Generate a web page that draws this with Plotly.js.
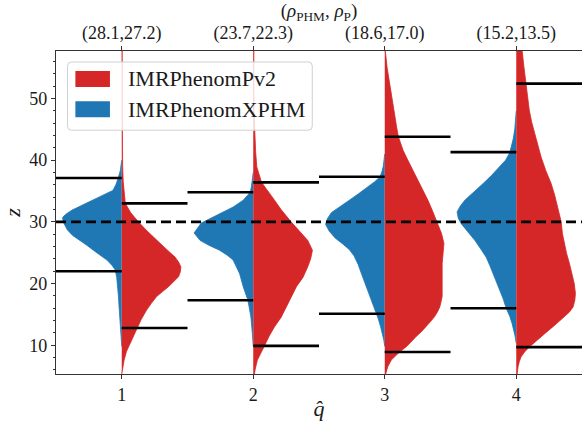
<!DOCTYPE html>
<html><head><meta charset="utf-8">
<script src="https://cdn.plot.ly/plotly-3.0.1.min.js"></script>
<style>html,body{margin:0;padding:0;background:#fff}#chart{width:582px;height:421px}</style>
</head><body><div id="chart"></div>
<script>
// ---------------- data ----------------
const positions = [1, 2, 3, 4];
const xTickLabels = ['1', '2', '3', '4'];
const snrLabels = ['(28.1,27.2)', '(23.7,22.3)', '(18.6,17.0)', '(15.2,13.5)'];
const seriesNames = ['IMRPhenomPv2', 'IMRPhenomXPHM'];
const refZ = 30;

// IMRPhenomXPHM (blue, left halves): z samples and relative density (0..1)
const xphmZ = [
  [40, 39.4, 38.3, 37.1, 36, 35.1, 34.3, 33.5, 32.7, 31.9, 31.2, 30.7, 30, 28.7, 27.8, 27.0, 26.2, 25.4, 24.6, 23.8, 22.9, 22.2, 21, 19.5, 17.8, 16.2, 14.4, 12.5, 10.8, 9.8],
  [38, 37, 35.8, 34.8, 33.5, 32.4, 31.5, 30.8, 29.8, 28.2, 27.0, 26.2, 25.4, 24.6, 23.8, 21.6, 19.5, 17.3, 14.6, 11.9, 9.8],
  [41, 40, 39, 38.2, 37.3, 36.5, 35.5, 34.5, 33.5, 32.5, 31.5, 30.5, 29.6, 28.5, 27.4, 26.5, 25.5, 24.5, 23.1, 21.5, 20, 18.5, 17, 15.5, 14.3, 13, 11.8, 10.8, 9.8],
  [48, 46.5, 45, 43.5, 42.3, 41.2, 40, 38.9, 37.5, 36.2, 34.8, 33.5, 32.5, 31.6, 30.6, 29.7, 28.4, 27, 25.6, 24.3, 23, 21.6, 20.2, 18.9, 17.5, 16, 14.7, 13.5, 12.5, 11.5, 10.3]
];
const xphmW = [
  [0, .01, .025, .06, .1, .15, .32, .49, .67, .84, .95, 1.0, .99, .92, .83, .7, .59, .48, .36, .25, .16, .11, .085, .065, .055, .045, .03, .02, .01, 0],
  [0, .01, .03, .05, .17, .34, .52, .68, .88, 1.0, .9, .75, .57, .44, .34, .23, .17, .09, .04, .015, 0],
  [0, .01, .025, .045, .08, .17, .3, .45, .6, .76, .9, .97, 1.0, .94, .84, .72, .6, .52, .45, .39, .33, .27, .22, .16, .11, .07, .035, .015, 0],
  [0, .01, .025, .05, .08, .11, .18, .28, .42, .56, .72, .87, .95, 1.0, .98, .93, .82, .7, .6, .51, .45, .39, .33, .28, .22, .17, .11, .07, .04, .02, 0]
];

// IMRPhenomPv2 (red, right halves)
const pv2Z = [
  [57.7, 50, 43, 39, 36.5, 35, 34, 33, 31.5, 30, 28.5, 27, 25.6, 24.3, 23.5, 22.7, 21.9, 21.1, 20.3, 19.5, 18.7, 17.9, 16.8, 15.7, 14.2, 12.8, 11.5, 10.3, 9, 7.6, 6.3, 5.3],
  [57.7, 48, 43, 41.4, 38.9, 36.4, 33.5, 32, 30, 28, 27, 25.4, 24, 22.7, 21, 19.5, 17.8, 16.2, 14.5, 13.0, 11.5, 9.9, 8.5, 7.6, 6.0, 5.3],
  [57.7, 55, 52.4, 49.5, 47, 45.4, 43.8, 42.2, 41.6, 40.2, 38.9, 37.5, 36.2, 34.8, 33.5, 31.7, 30, 29, 28.1, 26.5, 25.4, 24.3, 23.2, 22.2, 21.1, 20, 19, 17.9, 17, 16.2, 15.4, 14.6, 13.8, 13, 12.2, 11.4, 10.6, 9.8, 8.9, 7.6, 6.5, 5.3],
  [57.7, 55.1, 52.4, 50.2, 48.1, 46.2, 44.3, 42.4, 40.5, 38.3, 36.2, 34.3, 32.4, 30, 28.1, 26.5, 24.9, 23.2, 21.6, 20, 18.4, 17.3, 16.2, 15.4, 14.6, 13.8, 13, 12.2, 11.4, 10.5, 9.7, 8.9, 8.1, 7.3, 6.5, 5.3]
];
const pv2W = [
  [.008, .008, .01, .015, .025, .035, .045, .06, .15, .28, .43, .59, .75, .9, .96, 1.0, .99, .96, .88, .79, .69, .59, .5, .42, .33, .26, .2, .14, .08, .04, .015, .008],
  [.01, .012, .025, .04, .06, .14, .36, .47, .64, .82, .92, 1.0, .97, .92, .84, .73, .64, .56, .47, .36, .27, .19, .12, .07, .03, .02],
  [.01, .04, .08, .13, .17, .2, .23, .28, .31, .38, .45, .52, .59, .66, .73, .81, .88, .93, .96, 1.0, .99, .97, .97, .97, .97, .97, .97, .97, .95, .93, .89, .84, .77, .7, .62, .53, .45, .37, .25, .11, .05, .015],
  [.1, .13, .16, .19, .22, .26, .31, .36, .42, .5, .59, .65, .7, .76, .78, .81, .85, .9, .94, .98, 1.0, .99, .96, .9, .81, .72, .62, .52, .42, .32, .22, .14, .08, .05, .03, .015]
];

// interval markers (horizontal black bars)
const xphmLo = [22.0, 17.3, 15.1, 16.0];
const xphmHi = [37.1, 34.8, 37.3, 41.3];
const pv2Lo  = [12.8, 9.9, 8.9, 9.7];
const pv2Hi  = [33.0, 36.4, 43.8, 52.4];

// ---------------- styling ----------------
const RED = '#d62728', BLUE = '#1f77b4';
const HALF = 0.45, BAR = 0.5;
const FONT = "'Liberation Serif', serif";

function halfViolin(pos, zs, ws, side, color, name) {
  const xs = [pos], ys = [zs[0]];
  for (let k = 0; k < zs.length; k++) { xs.push(pos + side * HALF * ws[k]); ys.push(zs[k]); }
  xs.push(pos); ys.push(zs[zs.length - 1]);
  return {type: 'scatter', mode: 'lines', x: xs, y: ys, fill: 'toself', fillcolor: color,
          line: {color: color, width: 0.8}, name: name, hoverinfo: 'skip', showlegend: false};
}
function bars(lo, hi, side) {
  const xs = [], ys = [];
  positions.forEach((p, i) => {
    xs.push(p, p + side * BAR, null, p, p + side * BAR, null);
    ys.push(lo[i], lo[i], null, hi[i], hi[i], null);
  });
  return {type: 'scatter', mode: 'lines', x: xs, y: ys, line: {color: '#000', width: 2.6},
          hoverinfo: 'skip', showlegend: false, connectgaps: false};
}

const traces = [];
positions.forEach((p, i) => {
  traces.push(halfViolin(p, xphmZ[i], xphmW[i], -1, BLUE, seriesNames[1]));
  traces.push(halfViolin(p, pv2Z[i], pv2W[i], 1, RED, seriesNames[0]));
});
traces.push(bars(xphmLo, xphmHi, -1));
traces.push(bars(pv2Lo, pv2Hi, 1));
traces.push({type: 'scatter', mode: 'markers', x: positions, y: xphmHi, xaxis: 'x2',
             marker: {opacity: 0}, hoverinfo: 'skip', showlegend: false});

// pixel helpers for the hand-drawn legend box
const PL = 56, PR = 582.5, PT = 50.7, PB = 374;
const px = v => (v - PL) / (PR - PL);
const py = v => (PB - v) / (PB - PT);
function roundRect(x0, y0, x1, y1, r) {
  const P = (x, y) => px(x).toFixed(5) + ',' + py(y).toFixed(5);
  return 'M' + P(x0 + r, y0) + ' L' + P(x1 - r, y0) + ' Q' + P(x1, y0) + ' ' + P(x1, y0 + r) +
         ' L' + P(x1, y1 - r) + ' Q' + P(x1, y1) + ' ' + P(x1 - r, y1) +
         ' L' + P(x0 + r, y1) + ' Q' + P(x0, y1) + ' ' + P(x0, y1 - r) +
         ' L' + P(x0, y0 + r) + ' Q' + P(x0, y0) + ' ' + P(x0 + r, y0) + ' Z';
}
const legendColors = [RED, BLUE];
const legendRows = [78.7, 109];
const shapes = [
  {type: 'line', xref: 'paper', yref: 'y', x0: 0, x1: 1, y0: refZ, y1: refZ,
   line: {color: '#000', width: 2.6, dash: '10px,5px'}, layer: 'above'},
  {type: 'path', xref: 'paper', yref: 'paper', path: roundRect(67.5, 61.7, 312.5, 130, 4),
   fillcolor: 'rgba(255,255,255,0.8)', line: {color: '#d0d0d0', width: 1}, layer: 'above'}
];
const annotations = [];
seriesNames.forEach((nm, k) => {
  shapes.push({type: 'rect', xref: 'paper', yref: 'paper', x0: px(75.4), x1: px(110),
               y0: py(legendRows[k] - 8), y1: py(legendRows[k] + 8),
               fillcolor: legendColors[k], line: {width: 0}, layer: 'above'});
  annotations.push({xref: 'paper', yref: 'paper', x: px(126), y: py(legendRows[k]),
                    xanchor: 'left', yanchor: 'middle', showarrow: false, text: nm,
                    font: {family: FONT, size: 22, color: '#1a1a1a'}});
});

const axisCommon = {showgrid: false, zeroline: false, showline: true, linecolor: '#333', linewidth: 1.2,
                    ticks: 'outside', ticklen: 4, tickwidth: 1, tickcolor: '#333'};
const layout = {
  width: 582, height: 421,
  margin: {l: 56, r: 0, t: 51, b: 47, pad: 0},
  paper_bgcolor: '#fff', plot_bgcolor: '#fff',
  font: {family: FONT, size: 18, color: '#1a1a1a'},
  showlegend: false,
  xaxis: Object.assign({}, axisCommon, {
    range: [0.5, 4.5], tickmode: 'array', tickvals: positions, ticktext: xTickLabels,
    title: {text: '<i>q̂</i>', font: {size: 22}, standoff: 2}}),
  xaxis2: Object.assign({}, axisCommon, {
    overlaying: 'x', side: 'top', range: [0.5, 4.5], tickmode: 'array', tickvals: positions,
    ticktext: snrLabels, title: {text: '(<i>ρ</i><sub>PHM</sub>, <i>ρ</i><sub>P</sub>)', font: {size: 19}, standoff: 0}}),
  yaxis: Object.assign({}, axisCommon, {
    range: [5.34, 57.69], tickmode: 'array', tickvals: [10, 20, 30, 40, 50],
    minor: {dtick: 2, tick0: 0, ticks: 'outside', ticklen: 2, tickcolor: '#333', showgrid: false},
    title: {text: '<i>z</i>', font: {size: 22}, standoff: 5}}),
  shapes: shapes,
  annotations: annotations
};
Plotly.newPlot('chart', traces, layout, {staticPlot: true, displayModeBar: false});
</script>
</body></html>
